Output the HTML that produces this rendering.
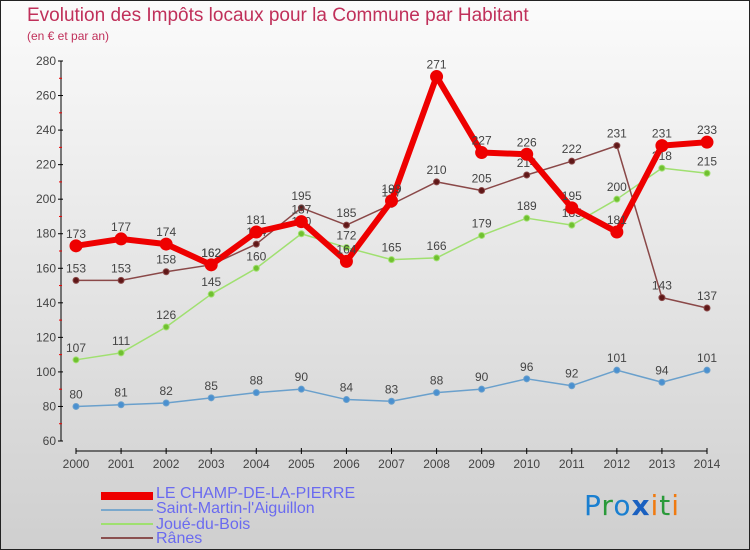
<!DOCTYPE html>
<html><head><meta charset="utf-8"><style>
body{margin:0}
#c{width:748px;height:548px;border:1px solid #222;background:linear-gradient(#fbfbfb,#cfcfcf);position:relative;font-family:"Liberation Sans",sans-serif;overflow:hidden}
.t{position:absolute;left:26px;top:4px;font-size:19px;color:#c0305a}
.s{position:absolute;left:26px;top:28px;font-size:12px;color:#c0305a}
.lg{position:absolute;left:100px;font-size:16px;color:#6a6af0;line-height:16px}
.sw{position:absolute;left:100px;width:52px}
</style></head><body>
<div id="c">
<div class="t">Evolution des Impôts locaux pour la Commune par Habitant</div>
<div class="s">(en € et par an)</div>
<svg id="svg" width="750" height="550" style="position:absolute;left:0;top:0"></svg>
<div class="sw" style="top:491px;height:8px;background:#e00"></div>
<div class="lg" style="left:155px;top:485px">LE CHAMP-DE-LA-PIERRE</div>
<div class="sw" style="top:508px;height:2px;background:#7aa8cc"></div>
<div class="lg" style="left:155px;top:500px">Saint-Martin-l'Aiguillon</div>
<div class="sw" style="top:522px;height:2px;background:#9fe070"></div>
<div class="lg" style="left:155px;top:516px">Joué-du-Bois</div>
<div class="sw" style="top:536px;height:2px;background:#8a5050"></div>
<div class="lg" style="left:155px;top:530px">Rânes</div>
<div style="position:absolute;left:583px;top:488px;font-size:28px;font-family:'DejaVu Sans',sans-serif;letter-spacing:1px"><span style="color:#1a7fd0">P</span><span style="color:#2a9a3a">r</span><span style="color:#1a7fd0">o</span><span style="color:#1a60c0;font-weight:bold">x</span><span style="color:#f07a10">i</span><span style="color:#2a9a3a">t</span><span style="color:#f07a10">i</span></div>
</div>
<script>
const years=[2000,2001,2002,2003,2004,2005,2006,2007,2008,2009,2010,2011,2012,2013,2014];
const yTicks=[60,80,100,120,140,160,180,200,220,240,260,280];
const champ=[173,177,174,162,181,187,164,199,271,227,226,195,181,231,233];
const saintMartin=[80,81,82,85,88,90,84,83,88,90,96,92,101,94,101];
const joue=[107,111,126,145,160,180,172,165,166,179,189,185,200,218,215];
const ranes=[153,153,158,162,174,195,185,197,210,205,214,222,231,143,137];
const svg=document.getElementById('svg');const NS='http://www.w3.org/2000/svg';
const x=i=>75+i*(706-75)/(years.length-1);
const y=v=>440-(v-60)*(380/220);
function mk(t,a){const e=document.createElementNS(NS,t);for(const k in a)e.setAttribute(k,a[k]);svg.appendChild(e);return e;}
let e=mk('line',{x1:60,y1:60,x2:60,y2:440,stroke:'#000','stroke-width':1});

e=mk('line',{x1:75,y1:450,x2:706,y2:450,stroke:'#000','stroke-width':1});

yTicks.forEach((v,i)=>{
 mk('line',{x1:57,y1:y(v),x2:62,y2:y(v),stroke:'#000'});
 if(i<yTicks.length-1)mk('line',{x1:58,y1:y(v+10),x2:61,y2:y(v+10),stroke:'#e00'});
 const t=mk('text',{x:55,y:y(v)+4,'text-anchor':'end','font-size':12,fill:'#444','font-family':'Liberation Sans, sans-serif'});t.textContent=v;
 
});
years.forEach((yr,i)=>{
 mk('line',{x1:x(i),y1:447,x2:x(i),y2:453,stroke:'#000'});
 const t=mk('text',{x:x(i),y:467,'text-anchor':'middle','font-size':12,fill:'#444','font-family':'Liberation Sans, sans-serif'});t.textContent=yr;
 
});
function series(d,col,w,r,dot,name){
 const p=mk('polyline',{points:d.map((v,i)=>x(i)+','+y(v)).join(' '),fill:'none',stroke:col,'stroke-width':w,'stroke-linejoin':'round'});
 
 d.forEach((v,i)=>{
  const c=mk('circle',{cx:x(i),cy:y(v),r:r,fill:dot,stroke:col,'stroke-width':1});
  
  const t=mk('text',{x:x(i),y:y(v)-8,'text-anchor':'middle','font-size':12,fill:'#444','font-family':'Liberation Sans, sans-serif'});t.textContent=v;
  
 });
}
series(saintMartin,'#6aa0cc',1.5,3,'#4a90d0','saint-martin');
series(joue,'#a0e070',1.5,3,'#70c030','joue');
series(ranes,'#8a4848',1.5,3,'#601818','ranes');
series(champ,'#ee0000',6,6,'#ee0000','champ');
</script>
</body></html>
